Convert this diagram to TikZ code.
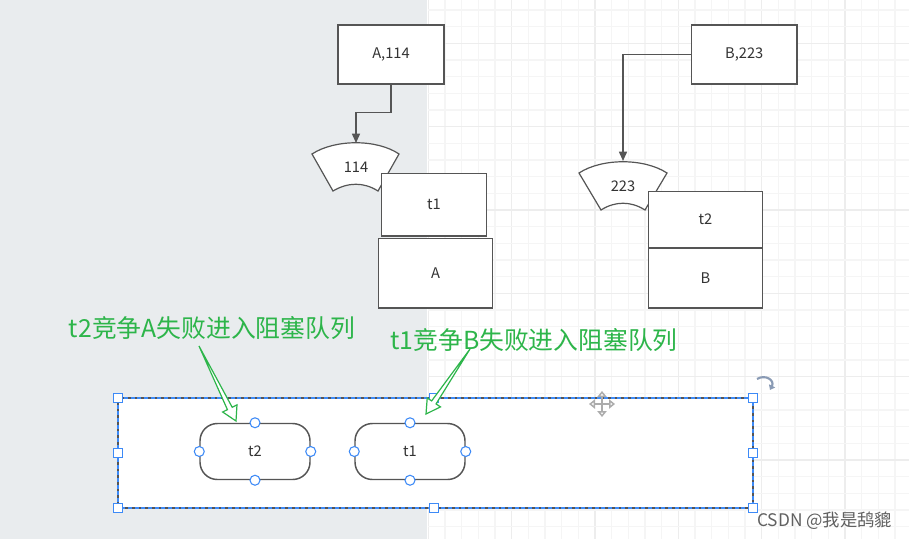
\documentclass[tikz,border=0pt]{standalone}
\usepackage{fontspec}
\setmainfont{Noto Sans CJK SC}
\usetikzlibrary{arrows.meta,calc}
\definecolor{bggray}{HTML}{E9ECEE}
\definecolor{gridminor}{HTML}{F5F5F5}
\definecolor{gridmajor}{HTML}{EDEDED}
\definecolor{edge}{HTML}{555555}
\definecolor{txt}{HTML}{333333}
\definecolor{lblgreen}{HTML}{2DB54A}
\definecolor{selblue}{HTML}{3D8AF7}
\definecolor{rotcol}{HTML}{8A9BB5}
\tikzset{
  box/.style={draw=edge, line width=1.1pt, fill=white, inner sep=0pt, text=txt, font=\fontsize{11}{13}\selectfont},
  conn/.style={draw=edge, line width=1.1pt, -{Triangle[length=7pt,width=6pt]}},
  sector/.style={draw=edge, line width=0.9pt, fill=white},
  capsule/.style={draw=edge, line width=1.1pt, fill=white, rounded corners=13pt, inner sep=0pt, text=txt, font=\fontsize{11}{13}\selectfont, minimum width=82.5pt, minimum height=42pt},
  handle/.style={draw=selblue, fill=white, line width=0.8pt, minimum size=7pt, inner sep=0pt},
  dot/.style={circle, draw=selblue, fill=white, line width=0.8pt, minimum size=7.5pt, inner sep=0pt},
  greenlbl/.style={text=lblgreen, font=\fontsize{18.6}{20}\selectfont, inner sep=0pt},
  fatarr/.style={draw=lblgreen, line width=0.9pt, fill=white, line join=miter},
}
\newcommand\fatarrow[2]{%
  \coordinate (#1hb) at ($(#2)!10.5pt!(#1)$);
  \draw[fatarr] (#1) -- ($(#1hb)!2pt!90:(#2)$) -- ($(#1hb)!6pt!90:(#2)$) -- (#2)
    -- ($(#1hb)!6pt!-90:(#2)$) -- ($(#1hb)!2pt!-90:(#2)$) -- cycle;}
\begin{document}
\begin{tikzpicture}[x=0.75pt,y=-0.75pt]
\useasboundingbox (0,0) rectangle (909,539);
% backgrounds
\fill[white] (0,0) rectangle (909,539);
\fill[bggray] (0,0) rectangle (427,539);
% grid
\foreach \i in {0,...,29} {
  \pgfmathsetmacro\gx{428.3+16.667*\i}
  \pgfmathtruncatemacro\m{mod(\i,5)}
  \ifnum\m=0 \draw[gridmajor, line width=0.8pt] (\gx,0) -- (\gx,539);
  \else \draw[gridminor, line width=0.8pt] (\gx,0) -- (\gx,539); \fi
}
\foreach \j in {0,...,32} {
  \pgfmathsetmacro\gy{-6.7+16.667*\j}
  \pgfmathtruncatemacro\m{mod(\j+2,5)}
  \ifnum\m=0 \draw[gridmajor, line width=0.8pt] (428,\gy) -- (909,\gy);
  \else \draw[gridminor, line width=0.8pt] (428,\gy) -- (909,\gy); \fi
}
% top boxes
\node[box, minimum width=79.5pt, minimum height=44.25pt] (a114) at (391,54.5) {A,114};
\node[box, minimum width=79.1pt, minimum height=44.25pt] (b223) at (744.25,54.5) {B,223};
% sector shapes
\draw[sector] (312,154) .. controls (335,139) and (377,139) .. (399,154)
  -- (378,191) .. controls (364,182) and (348,182) .. (333,191) -- cycle;
\coordinate (s114top) at (356,143);
\node[text=txt, font=\fontsize{11}{13}\selectfont] (l114) at (356,167) {114};
\draw[sector] (579,173) .. controls (602,158) and (644,158) .. (667,173)
  -- (645,210) .. controls (631,201) and (615,201) .. (601,210) -- cycle;
\coordinate (s223top) at (623,161);
\node[text=txt, font=\fontsize{11}{13}\selectfont] (l223) at (623,186) {223};
% stacks
\node[box, minimum width=78.75pt, minimum height=46.9pt] (t1box) at (434,204.75) {t1};
\node[box, minimum width=85.5pt, minimum height=52.1pt] (abox) at (435.5,273.25) {A};
\node[box, minimum width=85.5pt, minimum height=42.4pt] (t2box) at (705.5,219.75) {t2};
\node[box, minimum width=85.5pt, minimum height=45pt] (bbox) at (705.5,278) {B};
% connectors
\draw[conn] (a114.south) -- ++(0,28) -| (s114top);
\draw[conn] (b223.west) -| (s223top);
% selection rectangle
\draw[edge, line width=1.1pt, fill=white] (118,398) rectangle (753,508);
\draw[selblue, line width=0.8pt, dash pattern=on 3pt off 2pt] (118,398) rectangle (753,508);
\foreach \hx/\hy/\nm in {118/398/h1,434/398/h2,753/398/h3,118/453/h4,753/453/h5,118/508/h6,434/508/h7,753/508/h8}
  \node[handle] (\nm) at (\hx,\hy) {};
% capsules
\node[capsule] (q2) at (255,451.5) {t2};
\node[capsule] (q1) at (410,451.5) {t1};
\foreach \c in {q1,q2} {
  \node[dot] at (\c.north) {};
  \node[dot] at (\c.south) {};
  \node[dot] at (\c.west) {};
  \node[dot] at (\c.east) {};
}
% green labels
\node[greenlbl] (g2) at (212,328) {t2竞争A失败进入阻塞队列};
\node[greenlbl] (g1) at (534,340) {t1竞争B失败进入阻塞队列};
\coordinate (fa1s) at (199,346);
\coordinate (fa1t) at (236,421);
\coordinate (fa2s) at (470,349);
\coordinate (fa2t) at (426,414);
\fatarrow{fa1s}{fa1t}
\fatarrow{fa2s}{fa2t}
% move icon
\draw[gray!65, line width=1.5pt, {Triangle[open,length=4.5pt,width=7pt]}-{Triangle[open,length=4.5pt,width=7pt]}] (589,404) -- (615,404);
\draw[gray!65, line width=1.5pt, {Triangle[open,length=4.5pt,width=7pt]}-{Triangle[open,length=4.5pt,width=7pt]}] (602,391) -- (602,417);
% rotate icon
\draw[rotcol, line width=1.6pt, -{Triangle[length=3.5pt,width=5pt]}] (757,379) .. controls (765,374) and (775,380) .. (770,390);
% watermark
\node[text=gray!75!black, font=\fontsize{13}{15}\selectfont, anchor=west, inner sep=0pt] (wm) at (757,521) {CSDN @我是鸹貔};
\end{tikzpicture}
\end{document}
